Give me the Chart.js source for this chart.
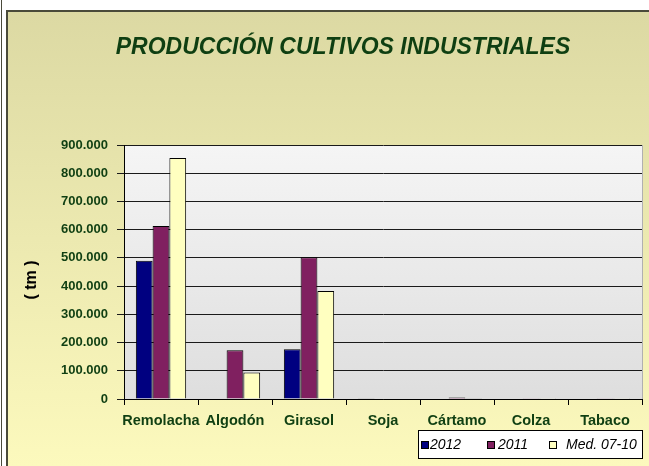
<!DOCTYPE html>
<html><head><meta charset="utf-8">
<script src="https://cdn.jsdelivr.net/npm/chart.js@4"></script>
<style>html,body{margin:0;padding:0;background:#fff}#wrap{position:relative;width:649px;height:466px}</style>
</head><body><div id="wrap"><canvas id="c"></canvas></div>
<script>
// ---- data ----
const categories = ['Remolacha', 'Algodón', 'Girasol', 'Soja', 'Cártamo', 'Colza', 'Tabaco'];
const seriesNames = ['2012', '2011', 'Med. 07-10'];
const values2012 = [490000, 0, 176000, 1000, 1500, 1500, 1500];
const values2011 = [613000, 173000, 502000, 1500, 5000, 3000, 3000];
const valuesMed = [854000, 94000, 383000, 1500, 2500, 3000, 3000];
const yMin = 0, yMax = 900000, yStep = 100000;
const chartTitle = 'PRODUCCIÓN CULTIVOS INDUSTRIALES';
const yTitle = '( tm )';

// ---- styles ----
const colors = ['#000080', '#802060', '#ffffc0'];
const green = '#0f3f12';
const FONT = '"Liberation Sans", Arial, sans-serif';

const bgPlugin = {
  id: 'bg',
  beforeDraw(chart) {
    const ctx = chart.ctx, W = chart.width, H = chart.height;
    ctx.save();
    ctx.fillStyle = '#ffffff';
    ctx.fillRect(0, 0, W, H);
    const g = ctx.createLinearGradient(0, 12, 0, H);
    g.addColorStop(0, '#dcd9a3');
    g.addColorStop(1, '#fcf9bd');
    ctx.fillStyle = g;
    ctx.fillRect(7, 12, W - 7, H - 12);
    ctx.strokeStyle = '#4a4a3a';
    ctx.lineWidth = 1;
    ctx.beginPath();
    ctx.moveTo(1.5, 0); ctx.lineTo(1.5, H);
    ctx.stroke();
    ctx.lineWidth = 2;
    ctx.beginPath();
    ctx.moveTo(7, 11); ctx.lineTo(7, H);
    ctx.moveTo(6, 11); ctx.lineTo(W, 11);
    ctx.stroke();
    // plot area
    const a = chart.chartArea;
    const pg = ctx.createLinearGradient(0, a.top, 0, a.bottom);
    pg.addColorStop(0, '#f5f5f5');
    pg.addColorStop(1, '#dedede');
    ctx.fillStyle = pg;
    ctx.fillRect(a.left, a.top, a.right - a.left, a.bottom - a.top);
    ctx.strokeStyle = '#b0b0b0';
    ctx.lineWidth = 1;
    ctx.beginPath();
    ctx.moveTo(a.right + 0.5, a.top); ctx.lineTo(a.right + 0.5, a.bottom);
    ctx.stroke();
    ctx.restore();
  },
  afterDraw(chart) {
    const ctx = chart.ctx;
    ctx.save();
    // y axis title
    ctx.translate(32, 280);
    ctx.rotate(-Math.PI / 2);
    ctx.fillStyle = '#000';
    ctx.font = 'bold 16px ' + FONT;
    ctx.textAlign = 'center';
    ctx.textBaseline = 'middle';
    ctx.fillText(yTitle, 0, 0);
    ctx.restore();
    // legend box
    ctx.save();
    const bx = 418, by = 430, bw = 224, bh = 28;
    ctx.fillStyle = '#ffffff';
    ctx.fillRect(bx, by, bw, bh);
    ctx.strokeStyle = '#000';
    ctx.lineWidth = 1;
    ctx.strokeRect(bx + 0.5, by + 0.5, bw, bh);
    const sq = [3, 69, 131];
    const tx = [12, 80, 148];
    ctx.font = 'italic 14px ' + FONT;
    ctx.textBaseline = 'middle';
    chart.data.datasets.forEach((ds, i) => {
      const cy = by + bh / 2 + 1;
      ctx.fillStyle = ds.backgroundColor;
      ctx.fillRect(bx + sq[i], cy - 4, 8, 8);
      ctx.strokeStyle = '#000';
      ctx.strokeRect(bx + sq[i] + 0.5, cy - 4 + 0.5, 7, 7);
      ctx.fillStyle = '#000';
      ctx.fillText(ds.label, bx + tx[i], cy);
    });
    ctx.restore();
  }
};

new Chart(document.getElementById('c'), {
  type: 'bar',
  data: {
    labels: categories,
    datasets: [
      { label: seriesNames[0], data: values2012, backgroundColor: colors[0] },
      { label: seriesNames[1], data: values2011, backgroundColor: colors[1] },
      { label: seriesNames[2], data: valuesMed, backgroundColor: colors[2] }
    ].map(d => Object.assign(d, { borderColor: '#000', borderWidth: 1, categoryPercentage: 0.68, barPercentage: 1 }))
  },
  options: {
    responsive: true,
    maintainAspectRatio: false,
    animation: false,
    layout: { padding: { left: 44, top: 0, right: 7, bottom: 0 } },
    plugins: {
      legend: { display: false },
      tooltip: { enabled: false },
      title: {
        display: true,
        text: chartTitle,
        color: green,
        font: { family: FONT, size: 23, style: 'italic', weight: 'bold' },
        padding: { top: 34, bottom: 83.4 }
      }
    },
    scales: {
      x: {
        afterFit(s) { s.height = 67; },
        grid: { display: true, drawOnChartArea: false, drawTicks: true, tickLength: 6, color: '#000', offset: true },
        border: { color: '#000', width: 1 },
        ticks: { color: green, padding: 7, font: { family: FONT, size: 14.5, weight: 'bold' }, maxRotation: 0, autoSkip: false }
      },
      y: {
        min: yMin, max: yMax,
        afterFit(s) { s.width = 80; },
        grid: { color: '#1a1a1a', lineWidth: 1, drawTicks: true, tickLength: 7 },
        border: { color: '#000', width: 1 },
        ticks: {
          stepSize: yStep, color: green, padding: 9,
          font: { family: FONT, size: 13, weight: 'bold' },
          callback: v => v.toLocaleString('de-DE')
        }
      }
    }
  },
  plugins: [bgPlugin]
});
</script></body></html>
